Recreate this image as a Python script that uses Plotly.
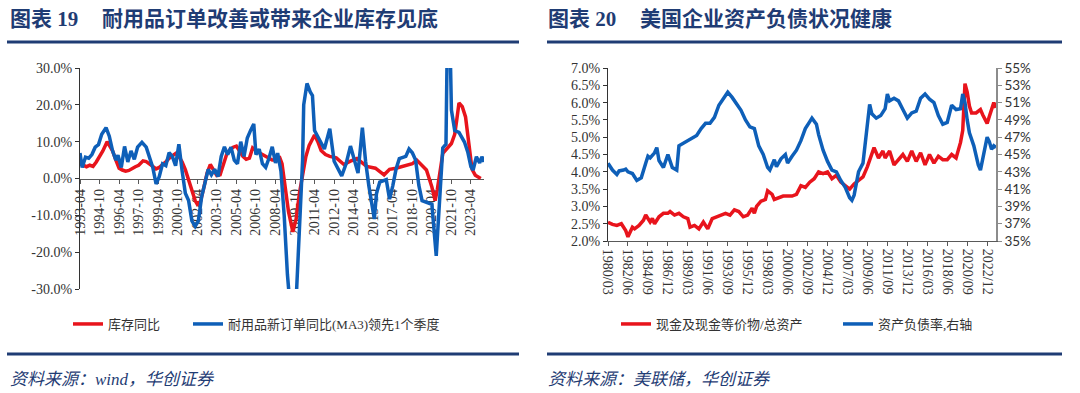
import plotly.graph_objects as go

# ---------------- Left chart data (图表19) ----------------
inv_dates = ["1993-04","1993-07","1993-10","1994-01","1994-04","1994-07","1994-10","1995-01","1995-05","1995-08",
             "1995-10","1996-01","1996-04","1996-07","1996-10","1997-01","1997-04","1997-07","1997-10","1998-02",
             "1998-05","1998-08","1998-11","1999-02","1999-05","1999-08","1999-11","2000-02","2000-05","2000-08",
             "2000-11","2001-02","2001-05","2001-08","2001-11","2002-02","2002-04","2002-07","2002-10","2003-01",
             "2003-04","2003-07","2003-10","2004-01","2004-04","2004-07","2004-10","2005-01","2005-04","2005-07",
             "2005-10","2006-01","2006-04","2006-07","2006-10","2007-01","2007-04","2007-07","2007-10","2008-01",
             "2008-04","2008-08","2008-10","2009-01","2009-04","2009-08","2009-11","2010-02","2010-05","2010-08",
             "2010-11","2011-02","2011-04","2011-07","2011-10","2012-02","2012-06","2012-12","2013-07","2014-01",
             "2014-07","2015-04","2015-12","2016-08","2017-01","2017-07","2018-01","2018-10","2019-02","2019-11",
             "2020-04","2020-07","2020-09","2020-12","2021-02","2021-10","2022-01","2022-03","2022-05","2022-08",
             "2022-11","2023-02","2023-05","2023-08","2024-01"]
inv_vals = [4.0,3.5,3.2,3.6,3.3,4.5,6.0,7.5,10.0,8.2,
            7.5,5.0,2.8,2.3,2.0,2.2,2.8,3.2,3.6,4.8,
            4.6,3.8,3.3,2.6,3.0,3.8,4.5,5.5,6.2,6.8,
            6.0,4.5,2.4,-0.5,-3.5,-6.0,-7.0,-6.2,-2.5,1.5,
            3.8,2.5,0.8,1.0,3.5,6.5,7.8,8.5,8.8,7.5,
            6.0,5.2,5.5,8.3,7.5,7.0,6.5,6.0,5.5,5.0,
            5.0,5.6,4.0,-2.0,-9.0,-14.5,-11.0,-4.0,0.5,6.0,
            9.0,10.5,11.8,10.0,7.6,6.5,6.0,5.6,3.8,4.7,
            5.4,3.3,2.8,1.0,2.5,2.8,3.3,4.0,5.0,2.3,
            -2.3,-6.0,-3.0,2.3,6.8,9.5,12.0,16.0,20.5,19.5,
            16.7,9.5,2.5,0.9,0.0]

ord_dates = ["1993-04","1993-06","1993-09","1993-12","1994-03","1994-06","1994-09","1994-12","1995-04","1995-07",
             "1995-10","1996-01","1996-03","1996-06","1996-09","1996-12","1997-03","1997-06","1997-09","1998-01",
             "1998-05","1998-08","1998-11","1999-02","1999-05","1999-08","1999-11","2000-02","2000-05","2000-08",
             "2000-11","2001-02","2001-05","2001-08","2001-11","2002-02","2002-05","2002-08","2002-11","2003-02",
             "2003-05","2003-08","2003-11","2004-02","2004-05","2004-08","2004-11","2005-02","2005-05","2005-08",
             "2005-11","2006-02","2006-05","2006-08","2006-10","2007-01","2007-04","2007-07","2007-10","2008-01",
             "2008-04","2008-06","2008-09","2008-12","2009-03","2009-05","2009-11","2010-02","2010-05","2010-06",
             "2010-09","2010-12","2011-02","2011-04","2011-09","2012-01","2012-06","2012-10","2013-05","2013-09",
             "2014-01","2014-04","2014-08","2014-12","2015-03","2015-06","2015-11","2016-01","2016-04","2016-10",
             "2017-01","2017-04","2017-07","2017-10","2018-04","2018-07","2018-10","2019-01","2019-04","2019-07",
             "2019-11","2020-04","2020-08","2020-12","2021-02","2021-05","2021-06","2021-09","2021-10","2022-01",
             "2022-05","2022-10","2023-01","2023-04","2023-06","2023-09","2023-12","2024-02","2024-04"]
ord_vals = [6.9,3.0,5.8,5.5,6.5,8.5,9.2,12.0,13.8,11.5,
            7.5,5.0,6.3,3.0,8.7,4.5,7.5,5.2,8.5,9.8,
            8.5,6.0,3.0,-1.5,0.5,4.0,3.5,7.0,6.0,3.5,
            9.3,2.0,-4.0,-6.0,-11.5,-13.0,-11.5,-5.0,-1.5,2.5,
            1.0,2.5,0.5,6.0,8.6,6.5,8.5,5.0,4.0,10.0,
            6.0,11.0,13.0,14.8,6.5,8.0,4.0,3.0,5.5,8.6,
            4.2,6.9,2.0,-10.0,-26.0,-33.0,-33.0,-12.0,5.0,20.0,
            25.8,23.5,22.5,13.0,10.4,8.0,13.5,4.7,0.7,4.0,
            8.8,6.0,1.5,13.8,4.7,-2.0,-11.0,-4.0,-1.0,-0.3,
            -5.6,-2.0,2.5,5.4,6.0,8.0,7.0,5.0,-1.8,-6.0,
            -6.4,-7.0,-21.0,1.0,8.3,9.3,33.0,33.0,18.6,13.0,
            12.5,9.9,7.2,3.2,2.3,5.9,4.2,5.9,4.5]

left_tick_dates = ["1993-04","1994-10","1996-04","1997-10","1999-04","2000-10","2002-04","2003-10","2005-04","2006-10",
                   "2008-04","2009-10","2011-04","2012-10","2014-04","2015-10","2017-04","2018-10","2020-04","2021-10","2023-04"]
left_y_ticks = [-30, -20, -10, 0, 10, 20, 30]
left_y_text = ["-30.0%", "-20.0%", "-10.0%", "0.0%", "10.0%", "20.0%", "30.0%"]

# ---------------- Right chart data (图表20) ----------------
cash_dates = ["1980-03","1980-09","1981-03","1981-09","1982-03","1982-06","1982-12","1983-03","1983-09","1984-03",
              "1984-06","1984-12","1985-03","1985-06","1985-12","1986-06","1986-12","1987-03","1987-09","1988-03",
              "1988-09","1989-03","1989-06","1989-12","1990-06","1990-12","1991-06","1991-12","1992-06","1992-12",
              "1993-06","1993-12","1994-06","1994-12","1995-06","1995-12","1996-06","1996-09","1996-12","1997-06",
              "1997-12","1998-03","1998-09","1998-12","1999-06","1999-12","2000-06","2000-12","2001-06","2001-12",
              "2002-06","2002-12","2003-06","2003-12","2004-06","2004-12","2005-06","2005-12","2006-06","2006-12",
              "2007-06","2007-12","2008-06","2008-12","2009-06","2009-12","2010-03","2010-09","2011-03","2011-06",
              "2011-12","2012-06","2012-12","2013-06","2013-12","2014-06","2014-12","2015-06","2015-12","2016-06",
              "2016-12","2017-06","2017-12","2018-06","2018-12","2019-06","2019-12","2020-03","2020-06","2020-09",
              "2020-12","2021-03","2021-09","2022-03","2022-06","2022-12","2023-03","2023-09","2023-12"]
cash_vals = [2.54,2.48,2.45,2.50,2.30,2.12,2.40,2.35,2.45,2.60,
             2.75,2.55,2.65,2.50,2.70,2.80,2.80,2.85,2.75,2.80,
             2.70,2.65,2.40,2.45,2.35,2.55,2.35,2.65,2.70,2.75,
             2.80,2.75,2.90,2.85,2.70,2.75,2.95,2.80,3.00,3.15,
             3.20,3.45,3.35,3.20,3.25,3.30,3.30,3.30,3.35,3.60,
             3.55,3.70,3.80,4.00,3.95,4.00,3.80,3.90,3.70,3.60,
             3.50,3.65,3.75,3.85,4.15,4.55,4.70,4.40,4.60,4.40,
             4.60,4.20,4.35,4.50,4.30,4.60,4.30,4.55,4.20,4.50,
             4.25,4.45,4.35,4.35,4.50,4.40,4.85,5.20,6.55,6.30,
             5.90,5.70,5.70,5.80,5.65,5.40,5.60,6.00,5.85]

debt_dates = ["1980-03","1980-09","1981-03","1981-06","1981-12","1982-03","1982-06","1982-12","1983-06","1983-12",
              "1984-06","1984-09","1984-12","1985-06","1985-09","1985-12","1986-06","1986-12","1987-06","1987-12",
              "1988-03","1988-09","1989-03","1989-09","1990-03","1990-09","1991-03","1991-09","1992-03","1992-09",
              "1993-03","1993-09","1994-03","1994-09","1995-03","1995-09","1996-03","1996-09","1997-03","1997-09",
              "1998-03","1998-06","1998-12","1999-03","1999-09","2000-03","2000-06","2000-12","2001-06","2001-12",
              "2002-06","2002-12","2003-03","2003-09","2003-12","2004-06","2004-12","2005-06","2005-12","2006-06",
              "2006-12","2007-06","2007-09","2007-12","2008-06","2008-12","2009-06","2009-09","2009-12","2010-06",
              "2010-12","2011-06","2011-09","2011-12","2012-06","2012-12","2013-06","2013-12","2014-06","2014-12",
              "2015-06","2015-12","2016-06","2016-12","2017-06","2017-12","2018-06","2018-12","2019-06","2019-12",
              "2020-03","2020-06","2020-09","2020-12","2021-06","2021-12","2022-03","2022-09","2022-12","2023-03",
              "2023-06","2023-09","2023-12"]
debt_vals = [44.0,43.2,42.7,43.1,43.2,43.3,43.0,42.8,42.0,42.3,
             44.0,44.8,44.6,45.2,45.8,44.3,43.5,45.0,43.5,43.2,
             46.0,46.3,46.6,46.8,47.2,48.0,48.6,48.6,49.3,50.7,
             51.5,52.2,51.6,50.9,50.1,49.0,48.2,48.0,46.0,45.0,
             43.5,43.2,44.4,43.6,44.5,45.0,44.0,44.8,45.5,46.6,
             48.0,48.8,49.2,48.5,47.3,45.5,44.2,43.2,43.0,42.0,
             41.2,40.0,39.7,40.3,43.0,44.0,48.5,50.8,49.7,49.2,
             49.5,50.3,52.0,51.2,51.5,51.2,50.2,49.2,49.8,50.0,
             51.5,52.0,51.4,51.0,49.5,48.5,48.7,50.7,50.2,50.3,
             52.0,51.0,49.0,47.5,46.0,43.8,43.2,45.5,47.0,46.5,
             45.6,46.0,45.8]

right_tick_dates = ["1980-03","1982-06","1984-09","1986-12","1989-03","1991-06","1993-09","1995-12","1998-03","2000-06",
                    "2002-09","2004-12","2007-03","2009-06","2011-09","2013-12","2016-03","2018-06","2020-09","2022-12"]
left2_ticks = [2.0, 2.5, 3.0, 3.5, 4.0, 4.5, 5.0, 5.5, 6.0, 6.5, 7.0]
right2_ticks = [35, 37, 39, 41, 43, 45, 47, 49, 51, 53, 55]

# ---------------- styling ----------------
W, H = 1080, 393
RED = "#E8141C"
BLUE = "#0E5FB8"
NAVY = "#1F3C74"
SERIF = "Liberation Serif, Noto Sans CJK SC, serif"
TXT = "#333333"
LW = 3.5

def px(x):
    return x / W

def py(y):
    return 1 - y / H

fig = go.Figure()

fig.add_trace(go.Scatter(x=inv_dates, y=inv_vals, name="库存同比", mode="lines",
                         line=dict(color=RED, width=LW), xaxis="x", yaxis="y", legend="legend"))
fig.add_trace(go.Scatter(x=ord_dates, y=ord_vals, name="耐用品新订单同比(MA3)领先1个季度", mode="lines",
                         line=dict(color=BLUE, width=LW), xaxis="x", yaxis="y", legend="legend3"))
fig.add_trace(go.Scatter(x=cash_dates, y=cash_vals, name="现金及现金等价物/总资产", mode="lines",
                         line=dict(color=RED, width=LW), xaxis="x2", yaxis="y2", legend="legend2"))
fig.add_trace(go.Scatter(x=debt_dates, y=debt_vals, name="资产负债率,右轴", mode="lines",
                         line=dict(color=BLUE, width=LW), xaxis="x2", yaxis="y3", legend="legend4"))

ly0, ly1 = py(289), py(68)
ry0, ry1 = py(241), py(68)

tick_font = dict(family=SERIF, size=14, color=TXT)

def leg(x):
    return dict(orientation="h", x=px(x), xanchor="left", y=py(324), yanchor="middle",
                font=dict(family=SERIF, size=13, color=TXT), bgcolor="rgba(0,0,0,0)", itemwidth=30)

fig.update_layout(
    width=W, height=H, margin=dict(l=0, r=0, t=0, b=0, autoexpand=False),
    paper_bgcolor="white", plot_bgcolor="white",
    font=dict(family=SERIF, size=12, color=TXT),
    xaxis=dict(domain=[px(80), px(484)], type="date", range=["1993-04-01", "2024-04-01"],
               anchor="free", position=(ly0 + ly1) / 2,
               tickmode="array", tickvals=left_tick_dates, ticktext=left_tick_dates,
               tickangle=-90, ticks="outside", ticklen=4, tickcolor="#595959",
               showline=True, linecolor="#595959", linewidth=1, showgrid=False, zeroline=False,
               layer="below traces", tickfont=tick_font),
    yaxis=dict(domain=[ly0, ly1], range=[-30, 30], tickmode="array", tickvals=left_y_ticks,
               ticktext=left_y_text, ticks="outside", ticklen=4, tickcolor="#333333",
               showline=True, linecolor="#333333", linewidth=1, showgrid=False, zeroline=False,
               anchor="x", tickfont=tick_font),
    xaxis2=dict(domain=[px(608), px(996)], type="date", range=["1980-03-01", "2023-12-01"],
                anchor="y2", tickmode="array", tickvals=right_tick_dates,
                ticktext=[d.replace("-", "/") for d in right_tick_dates],
                tickangle=90, ticks="outside", ticklen=4, tickcolor="#595959",
                showline=True, linecolor="#595959", linewidth=1, showgrid=False, zeroline=False,
                tickfont=tick_font),
    yaxis2=dict(domain=[ry0, ry1], range=[2.0, 7.0], tickmode="array", tickvals=left2_ticks,
                ticktext=[f"{v:.1f}%" for v in left2_ticks], ticks="outside", ticklen=4,
                tickcolor="#333333", showline=True, linecolor="#333333", linewidth=1,
                showgrid=False, zeroline=False, anchor="x2", tickfont=tick_font),
    yaxis3=dict(range=[35, 55], overlaying="y2", side="right", anchor="x2", tickmode="array",
                tickvals=right2_ticks, ticktext=[f"{v}%" for v in right2_ticks], ticks="outside",
                ticklen=4, tickcolor="#8C8C8C", showline=True, linecolor="#8C8C8C", linewidth=1.5,
                showgrid=False, zeroline=False,
                tickfont=dict(family="Lato, Liberation Sans, sans-serif", size=13.5, color=TXT)),
    legend=leg(68),
    legend3=leg(188),
    legend2=leg(616),
    legend4=leg(838),
    showlegend=True,
)

# header / footer rules
for x0, x1 in [(7, 519), (547, 1062)]:
    for yy in (42, 354):
        fig.add_shape(type="line", xref="paper", yref="paper", x0=px(x0), x1=px(x1),
                      y0=py(yy), y1=py(yy), line=dict(color=NAVY, width=3))

title_font = dict(family="Liberation Serif, Noto Sans CJK SC, serif", size=21, color=NAVY, weight="bold")
anns = [
    (8, 19, "图表 19", title_font),
    (100, 19, "耐用品订单改善或带来企业库存见底", title_font),
    (546, 19, "图表 20", title_font),
    (638, 19, "美国企业资产负债状况健康", title_font),
]
src_font = dict(family="Liberation Serif, Noto Sans CJK SC, serif", size=17, color=NAVY, style="italic")
anns += [
    (8, 379, "资料来源：wind，华创证券", src_font),
    (546, 379, "资料来源：美联储，华创证券", src_font),
]
for x, y, t, f in anns:
    fig.add_annotation(x=px(x), y=py(y), xref="paper", yref="paper", text=t, showarrow=False,
                       xanchor="left", yanchor="middle", font=f)

fig.write_html("out.html", config={"displayModeBar": False},
               post_script="document.body.style.margin='0';document.body.style.padding='0';")
